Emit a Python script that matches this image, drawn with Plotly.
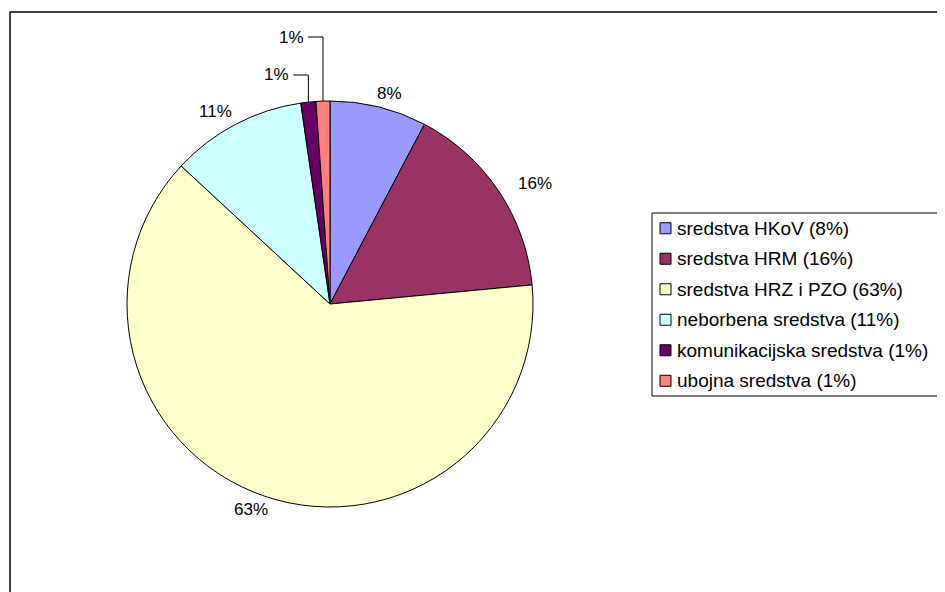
import math
import plotly.graph_objects as go

# ---- data ----
labels = [
    "sredstva HKoV (8%)",
    "sredstva HRM (16%)",
    "sredstva HRZ i PZO (63%)",
    "neborbena sredstva (11%)",
    "komunikacijska sredstva (1%)",
    "ubojna sredstva (1%)",
]
values = [7.7, 15.8, 63.4, 10.8, 1.2, 1.1]
pct_labels = ["8%", "16%", "63%", "11%", "1%", "1%"]
colors = ["#9999FF", "#993366", "#FFFFCC", "#CCFFFF", "#660066", "#FF8080"]

# ---- layout geometry (page pixels) ----
W, H = 945, 592
OFF = 8  # default body margin of the page
CX, CY, R = 330, 304, 203
RX_LAB, RY_LAB = 231, 217  # label ring (pie in reference is slightly elliptical)
FONT = "Liberation Sans, Arial, sans-serif"
FS_LAB = 17
FS_LEG = 19


def px(x):
    return (x - OFF) / W


def py(y):
    return 1 - (y - OFF) / H


fig = go.Figure(
    go.Pie(
        labels=labels,
        values=values,
        sort=False,
        direction="clockwise",
        rotation=0,
        marker=dict(colors=colors, line=dict(color="black", width=1)),
        textinfo="none",
        hoverinfo="label+percent",
        showlegend=False,
        domain=dict(x=[px(CX - R), px(CX + R)], y=[py(CY + R), py(CY - R)]),
    )
)

annotations = []
shapes = []

total = sum(values)
cum = 0.0
small_level = 0
for i, v in enumerate(values):
    mid = (cum + v / 2) / total
    cum += v
    th = 2 * math.pi * mid
    s, c = math.sin(th), math.cos(th)
    if v / total >= 0.05:
        x = CX + RX_LAB * s + 16 * s
        y = CY - RY_LAB * c
        annotations.append(dict(x=px(x), y=py(y), xref="paper", yref="paper",
                                text=pct_labels[i], showarrow=False,
                                font=dict(family=FONT, size=FS_LAB, color="black"),
                                xanchor="center", yanchor="middle"))
    else:
        # elbow leader line for tiny slices
        xe = CX + R * s
        ye = CY - R * c
        ylev = [75, 37][small_level % 2]
        small_level += 1
        shapes.append(dict(type="path", xref="paper", yref="paper",
                           path=f"M {px(xe)} {py(ye)} L {px(xe)} {py(ylev)} L {px(xe - 15)} {py(ylev)}",
                           line=dict(color="black", width=1)))
        annotations.append(dict(x=px(xe - 17), y=py(ylev), xref="paper", yref="paper",
                                text=pct_labels[i], showarrow=False,
                                font=dict(family=FONT, size=FS_LAB, color="black"),
                                xanchor="right", yanchor="middle"))

# ---- legend (drawn from the label/colour lists) ----
LX0, LY0, LY1 = 652, 213, 396
shapes.append(dict(type="rect", xref="paper", yref="paper",
                   x0=px(LX0), x1=px(W + 30), y0=py(LY1), y1=py(LY0),
                   line=dict(color="black", width=1), fillcolor="rgba(0,0,0,0)"))
step = (LY1 - LY0) / len(labels)
for i, (lab, col) in enumerate(zip(labels, colors)):
    yc = LY0 + step * (i + 0.5)
    shapes.append(dict(type="rect", xref="paper", yref="paper",
                       x0=px(LX0 + 8), x1=px(LX0 + 19), y0=py(yc + 5.5), y1=py(yc - 5.5),
                       line=dict(color="black", width=1), fillcolor=col))
    annotations.append(dict(x=px(LX0 + 23), y=py(yc), xref="paper", yref="paper",
                            text=lab, showarrow=False,
                            font=dict(family=FONT, size=FS_LEG, color="black"),
                            xanchor="left", yanchor="middle"))

# ---- outer chart frame ----
shapes.append(dict(type="rect", xref="paper", yref="paper",
                   x0=px(10), x1=px(W + 30), y0=py(H + 30), y1=py(12),
                   line=dict(color="black", width=1.5), fillcolor="rgba(0,0,0,0)"))

fig.update_layout(
    width=W,
    height=H,
    margin=dict(l=0, r=0, t=0, b=0),
    paper_bgcolor="white",
    plot_bgcolor="white",
    showlegend=False,
    shapes=shapes,
    annotations=annotations,
    font=dict(family=FONT, size=FS_LAB, color="black"),
)

fig.write_html("out.html")
